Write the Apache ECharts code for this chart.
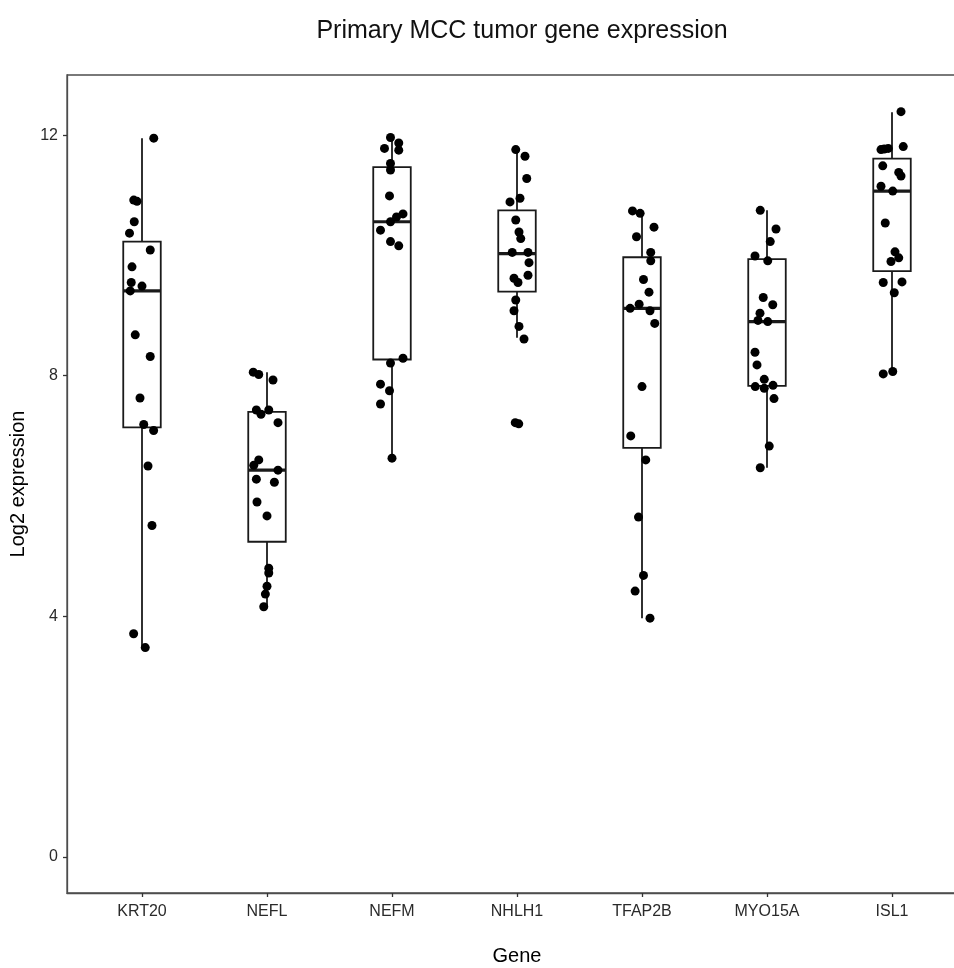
<!DOCTYPE html>
<html>
<head>
<meta charset="utf-8">
<script src="https://cdn.jsdelivr.net/npm/echarts@6/dist/echarts.min.js"></script>
<style>
html,body{margin:0;padding:0;background:#fff;}
#chart{width:954px;height:968px;}
</style>
</head>
<body>
<div id="chart"></div>
<script>
// ---- data ----
var genes = ['KRT20', 'NEFL', 'NEFM', 'NHLH1', 'TFAP2B', 'MYO15A', 'ISL1'];
var yTicks = [0, 4, 8, 12];

// box statistics (lower whisker, Q1, median, Q3, upper whisker)
var boxLow    = [3.48, 4.16, 6.63, 8.63, 3.97, 6.47, 8.03];
var boxQ1     = [7.14, 5.24, 8.27, 9.40, 6.80, 7.83, 9.74];
var boxMedian = [9.41, 6.43, 10.56, 10.03, 9.12, 8.90, 11.07];
var boxQ3     = [10.23, 7.40, 11.47, 10.75, 9.97, 9.94, 11.61];
var boxHigh   = [11.95, 8.06, 11.96, 11.76, 10.72, 10.75, 12.38];

// individual samples (values) and their horizontal jitter (category units)
var krt20Values = [11.95, 10.92, 10.90, 10.56, 10.37, 10.09, 9.81, 9.55, 9.49, 9.41, 8.68, 8.32, 7.63, 7.19, 7.09, 6.50, 5.51, 3.71, 3.48];
var krt20Jitter = [0.094, -0.066, -0.04, -0.062, -0.10, 0.066, -0.08, -0.086, 0, -0.094, -0.054, 0.066, -0.016, 0.014, 0.093, 0.048, 0.08, -0.067, 0.026];

var neflValues = [8.06, 8.02, 7.93, 7.43, 7.36, 7.43, 7.22, 6.60, 6.51, 6.43, 6.28, 6.23, 5.90, 5.67, 4.80, 4.72, 4.50, 4.37, 4.16];
var neflJitter = [-0.11, -0.066, 0.048, -0.085, -0.048, 0.014, 0.088, -0.066, -0.106, 0.088, -0.085, 0.059, -0.08, 0, 0.014, 0.014, 0, -0.013, -0.026];

var nefmValues = [11.96, 11.87, 11.78, 11.75, 11.53, 11.42, 10.99, 10.69, 10.64, 10.56, 10.42, 10.23, 10.16, 8.29, 8.21, 7.86, 7.75, 7.53, 6.63];
var nefmJitter = [-0.012, 0.054, -0.06, 0.054, -0.012, -0.012, -0.02, 0.088, 0.036, -0.012, -0.092, -0.012, 0.054, 0.088, -0.012, -0.092, -0.02, -0.092, 0];

var nhlh1Values = [11.76, 11.65, 11.28, 10.95, 10.89, 10.59, 10.39, 10.28, 10.05, 10.05, 9.88, 9.67, 9.62, 9.55, 9.26, 9.08, 8.82, 8.61, 7.22, 7.20];
var nhlh1Jitter = [-0.01, 0.064, 0.078, 0.024, -0.056, -0.01, 0.016, 0.03, -0.038, 0.088, 0.096, 0.088, -0.024, 0.008, -0.01, -0.024, 0.016, 0.056, -0.014, 0.014];

var tfap2bValues = [10.74, 10.70, 10.47, 10.31, 10.05, 9.91, 9.60, 9.39, 9.19, 9.12, 9.08, 8.87, 7.82, 7.00, 6.60, 5.65, 4.68, 4.42, 3.97];
var tfap2bJitter = [-0.076, -0.015, 0.096, -0.044, 0.07, 0.07, 0.012, 0.056, -0.023, -0.095, 0.064, 0.102, 0, -0.09, 0.03, -0.028, 0.012, -0.055, 0.064];

var myo15aValues = [10.75, 10.44, 10.23, 9.99, 9.91, 9.30, 9.18, 9.04, 8.92, 8.90, 8.39, 8.18, 7.94, 7.84, 7.82, 7.79, 7.62, 6.83, 6.47];
var myo15aJitter = [-0.054, 0.072, 0.026, -0.096, 0.006, -0.03, 0.046, -0.056, -0.072, 0.006, -0.096, -0.08, -0.022, 0.048, -0.094, -0.022, 0.056, 0.018, -0.054];

var isl1Values = [12.39, 11.81, 11.78, 11.77, 11.76, 11.49, 11.38, 11.32, 11.15, 11.07, 10.54, 10.06, 9.96, 9.90, 9.56, 9.55, 9.38, 8.07, 8.03];
var isl1Jitter = [0.072, 0.09, -0.03, -0.062, -0.088, -0.074, 0.054, 0.072, -0.088, 0.006, -0.054, 0.024, 0.054, -0.008, 0.08, -0.07, 0.018, 0.006, -0.07];

// ---- build options ----
var groupValues = [krt20Values, neflValues, nefmValues, nhlh1Values, tfap2bValues, myo15aValues, isl1Values];
var groupJitter = [krt20Jitter, neflJitter, nefmJitter, nhlh1Jitter, tfap2bJitter, myo15aJitter, isl1Jitter];

var boxData = genes.map(function (g, i) {
  return [i, boxLow[i], boxQ1[i], boxMedian[i], boxQ3[i], boxHigh[i]];
});
var pointData = [];
groupValues.forEach(function (vals, i) {
  vals.forEach(function (v, k) { pointData.push([i + groupJitter[i][k], v]); });
});

var BOX_W = 0.3; // in category units
var FONT = '"Liberation Sans", Arial, Helvetica, sans-serif';
var AXIS_COLOR = '#4d4d4d';

var chart = echarts.init(document.getElementById('chart'), null, { renderer: 'canvas' });

var option = {
  animation: false,
  backgroundColor: '#ffffff',
  title: {
    text: 'Primary MCC tumor gene expression',
    left: 517, top: 14, textAlign: 'center',
    textStyle: { fontFamily: FONT, fontSize: 25, fontWeight: 'normal', color: '#111' }
  },
  grid: {
    left: 67, right: -13, top: 75, bottom: 75,
    show: true, borderColor: AXIS_COLOR, borderWidth: 1.3,
    containLabel: false, outerBoundsMode: 'none'
  },
  xAxis: {
    type: 'value', min: -0.6, max: 6.6,
    name: 'Gene', nameLocation: 'middle', nameGap: 53,
    nameTextStyle: { fontFamily: FONT, fontSize: 20, color: '#000' },
    splitLine: { show: false },
    axisLine: { onZero: false, lineStyle: { color: AXIS_COLOR, width: 1.3 } },
    axisTick: { customValues: [0, 1, 2, 3, 4, 5, 6], length: 4, lineStyle: { color: '#333', width: 1.3 } },
    axisLabel: {
      customValues: [0, 1, 2, 3, 4, 5, 6], margin: 11,
      fontFamily: FONT, fontSize: 16, color: '#2a2a2a',
      formatter: function (v) { return genes[Math.round(v)]; }
    }
  },
  yAxis: {
    type: 'value', min: -0.6, max: 13.0,
    name: 'Log2 expression', nameLocation: 'middle', nameGap: 39, nameRotate: 90,
    nameTextStyle: { fontFamily: FONT, fontSize: 20, color: '#000' },
    splitLine: { show: false },
    axisLine: { show: true, onZero: false, lineStyle: { color: AXIS_COLOR, width: 1.3 } },
    axisTick: { show: true, customValues: yTicks, length: 4, lineStyle: { color: '#333', width: 1.3 } },
    axisLabel: {
      customValues: yTicks, margin: 9,
      fontFamily: FONT, fontSize: 16, color: '#2a2a2a'
    }
  },
  series: [
    {
      type: 'custom',
      data: boxData,
      encode: { x: 0, y: [1, 2, 3, 4, 5] },
      z: 2,
      renderItem: function (params, api) {
        var x = api.value(0);
        var pLow = api.coord([x, api.value(1)]);
        var pQ1 = api.coord([x, api.value(2)]);
        var pMed = api.coord([x, api.value(3)]);
        var pQ3 = api.coord([x, api.value(4)]);
        var pHigh = api.coord([x, api.value(5)]);
        var half = api.size([BOX_W, 0])[0] / 2;
        var cx = pMed[0];
        var stroke = { stroke: '#1a1a1a', lineWidth: 1.8, fill: null };
        return {
          type: 'group',
          children: [
            { type: 'line', shape: { x1: cx, y1: pHigh[1], x2: cx, y2: pQ3[1] }, style: stroke },
            { type: 'line', shape: { x1: cx, y1: pQ1[1], x2: cx, y2: pLow[1] }, style: stroke },
            { type: 'rect', shape: { x: cx - half, y: pQ3[1], width: half * 2, height: pQ1[1] - pQ3[1] },
              style: { stroke: '#1a1a1a', lineWidth: 1.8, fill: '#ffffff' } },
            { type: 'line', shape: { x1: cx - half, y1: pMed[1], x2: cx + half, y2: pMed[1] },
              style: { stroke: '#1a1a1a', lineWidth: 3.2 } }
          ]
        };
      }
    },
    {
      type: 'scatter',
      data: pointData,
      symbol: 'circle',
      symbolSize: 9,
      z: 3,
      itemStyle: { color: '#000000', opacity: 1 }
    }
  ]
};
chart.setOption(option);
</script>
</body>
</html>
